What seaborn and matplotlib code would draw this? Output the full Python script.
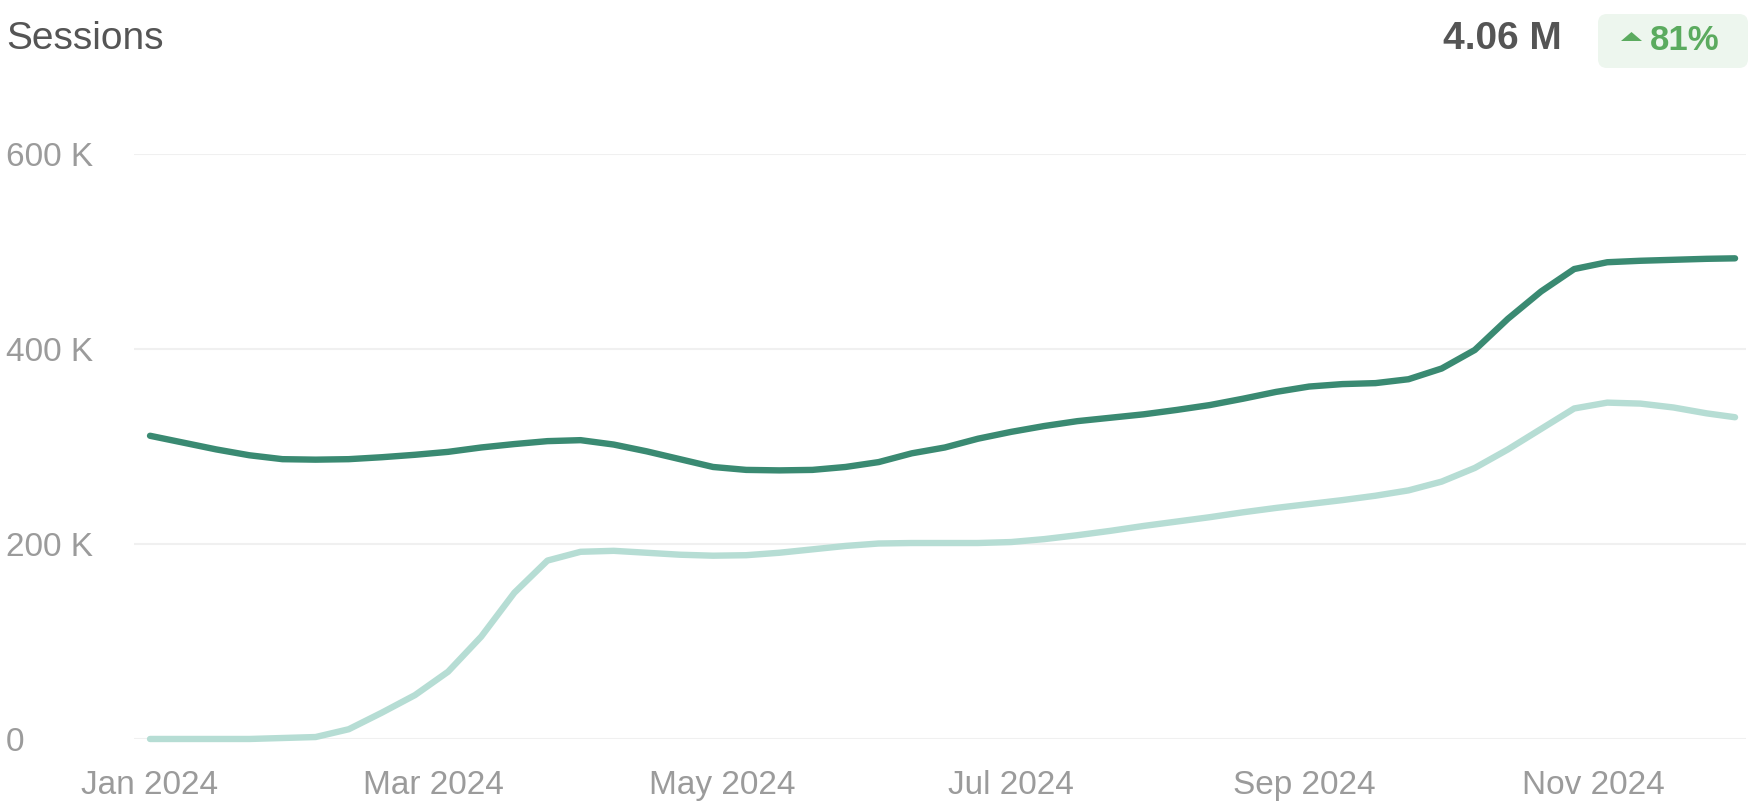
import numpy as np
import pandas as pd
import matplotlib.pyplot as plt
import matplotlib.dates as mdates
from matplotlib.patches import FancyBboxPatch, Polygon
import seaborn as sns

# weekly readings (last one on Dec 1), values in thousands of sessions
dates = list(pd.date_range('2024-01-01', periods=48, freq='7D')) + [pd.Timestamp('2024-12-01')]
current = [311, 304, 297, 291, 287, 286.5, 287, 289, 291.5, 294.5, 299, 302.5,
           305.5, 306.5, 302, 295, 287, 279, 276, 275.5, 276, 279, 284, 293,
           299, 308, 315, 321, 326, 329.5, 333, 337.5, 342.5, 349, 356, 361.5,
           364, 365, 369, 380, 399, 431, 459, 482, 489, 490.5, 491.5, 492.5, 493]
previous = [0, 0, 0, 0, 1, 2, 10, 27, 45, 69, 105, 150,
            183, 192, 193, 191, 189, 188, 188.5, 191, 194.5, 198, 200.5, 201,
            201, 201, 202, 205, 209, 213.5, 218.5, 223, 227.5, 232.5, 237, 241,
            245, 249.5, 255, 264, 278, 297, 318, 339, 345, 344, 340, 334, 330]
series_names = ['This period', 'Previous period']
palette = {'This period': '#3a8a72', 'Previous period': '#b6ddd4'}

y_ticks = [0, 200, 400, 600]
y_tick_labels = ['0', '200 K', '400 K', '600 K']

title = 'Sessions'
total = '4.06 M'
change = '81%'

df = pd.DataFrame({
    'date': dates * 2,
    'sessions': current + previous,
    'series': [series_names[0]] * len(dates) + [series_names[1]] * len(dates),
})

sns.set_theme(style='white')
plt.rcParams['font.family'] = ['Liberation Sans', 'DejaVu Sans']

fig = plt.figure(figsize=(17.6, 8.11), dpi=100)
ax = fig.add_axes([0.0761, 0.0888, 0.9159, 0.7213])

# gridlines first, lines on top
for v in y_ticks:
    ax.axhline(v, color='#f0f0f0', lw=1.5, zorder=0)

sns.lineplot(data=df, x='date', y='sessions', hue='series', hue_order=series_names[::-1],
             palette=palette, linewidth=4.6, legend=False, ax=ax,
             solid_capstyle='round', solid_joinstyle='round', clip_on=False)

ax.set_xlim(pd.Timestamp('2024-01-01') - pd.Timedelta(days=3.4),
            pd.Timestamp('2024-12-01') + pd.Timedelta(days=2.3))
ax.set_ylim(0, 600)
ax.set_xlabel('')
ax.set_ylabel('')
ax.grid(False)
sns.despine(ax=ax, left=True, bottom=True)

ax.set_yticks(y_ticks)
ax.set_yticklabels(y_tick_labels)
ax.xaxis.set_major_locator(mdates.MonthLocator(bymonth=[1, 3, 5, 7, 9, 11]))
ax.xaxis.set_major_formatter(mdates.DateFormatter('%b %Y'))
ax.tick_params(axis='y', length=0, pad=92, labelsize=24, labelcolor='#9b9b9b')
ax.tick_params(axis='x', length=0, pad=22, labelsize=24, labelcolor='#9b9b9b')
for t in ax.get_yticklabels():
    t.set_horizontalalignment('left')

# header
fig.text(0.0034, 0.952, title, fontsize=28, color='#555555', va='center', ha='left')
fig.text(0.8875, 0.952, total, fontsize=28, color='#555555', va='center', ha='right',
         fontweight='bold')

badge = FancyBboxPatch((15.98, 7.43), 1.50, 0.54, boxstyle='round,pad=0,rounding_size=0.09',
                       transform=fig.dpi_scale_trans, facecolor='#edf6ee', edgecolor='none')
fig.patches.append(badge)
tri = Polygon([[16.21, 7.70], [16.42, 7.70], [16.315, 7.79]], closed=True,
              transform=fig.dpi_scale_trans, facecolor='#5bab5f', edgecolor='none')
fig.patches.append(tri)
fig.text(0.9375, 0.950, change, fontsize=25, color='#5bab5f', va='center', ha='left',
         fontweight='bold')

fig.savefig('out.png', dpi=100)
